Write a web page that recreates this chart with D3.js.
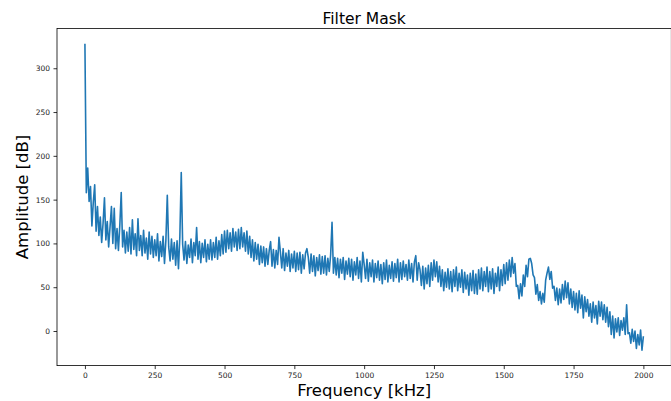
<!DOCTYPE html>
<html>
<head>
<meta charset="utf-8">
<script src="https://cdn.jsdelivr.net/npm/d3@7"></script>
<style>
  html, body { margin: 0; padding: 0; background: #fff; }
  svg { display: block; font-family: "DejaVu Sans", sans-serif; }
</style>
</head>
<body>
<div id="chart"></div>
<script>
// sampling grid of the spectrum (kHz)
const freqStart = 0;
const freqStep = 5;

// amplitude [dB], one value per 5 kHz
const amplitude = [
  328, 158, 186, 148, 165, 120, 147, 167, 114, 142,
  109, 130, 101, 123, 152, 104, 125, 96, 119, 142,
  100, 140, 94, 117, 92, 121, 158, 96, 115, 89,
  113, 91, 118, 88, 127, 93, 111, 86, 128, 92,
  109, 86, 115, 89, 106, 82, 113, 88, 108, 84,
  104, 86, 111, 80, 102, 85, 108, 77, 104, 155,
  96, 80, 105, 82, 101, 75, 103, 71, 108, 181,
  99, 81, 102, 77, 98, 84, 105, 78, 101, 86,
  118, 82, 102, 78, 100, 84, 104, 79, 99, 82,
  104, 81, 101, 84, 107, 82, 103, 86, 110, 88,
  114, 90, 115, 94, 112, 91, 117, 96, 113, 92,
  116, 94, 118, 96, 112, 91, 114, 88, 108, 84,
  104, 80, 101, 82, 99, 76, 97, 78, 96, 74,
  94, 76, 92, 102, 74, 93, 72, 92, 76, 107,
  90, 72, 94, 69, 89, 74, 92, 68, 88, 72,
  91, 68, 89, 70, 90, 66, 87, 71, 89, 94,
  84, 66, 88, 68, 86, 63, 84, 69, 87, 65,
  85, 66, 86, 64, 83, 68, 87, 124, 66, 84,
  64, 83, 61, 82, 66, 84, 59, 80, 65, 83,
  62, 82, 58, 79, 64, 84, 60, 80, 56, 90,
  76, 60, 82, 57, 78, 62, 81, 56, 77, 61,
  80, 58, 76, 54, 78, 59, 81, 56, 75, 60,
  79, 57, 77, 61, 82, 56, 78, 59, 80, 62,
  76, 58, 81, 60, 77, 56, 79, 86, 58, 78,
  70, 52, 74, 48, 72, 54, 75, 51, 78, 58,
  81, 62, 79, 56, 74, 51, 70, 46, 67, 50,
  71, 48, 68, 45, 70, 51, 73, 46, 66, 50,
  70, 44, 67, 48, 64, 41, 66, 46, 69, 43,
  65, 42, 70, 48, 72, 46, 68, 51, 73, 45,
  68, 48, 71, 43, 66, 51, 73, 46, 70, 52,
  76, 54, 78, 58, 81, 62, 84, 66, 77, 51,
  52, 37, 54, 40, 64, 51, 75, 62, 82, 83,
  77, 64, 61, 42, 53, 35, 45, 31, 43, 33,
  58, 66, 73, 59, 68, 49, 51, 35, 49, 30,
  48, 32, 53, 36, 57, 38, 55, 31, 48, 27,
  45, 24, 43, 21, 46, 26, 41, 15, 39, 22,
  36, 17, 31, 10, 33, 15, 29, 8, 34, 17,
  33, 13, 30, 10, 27, 5, 22, -4, 17, -8,
  14, -1, 15, -5, 12, 1, 15, -4, 30, -3,
  -2, -14, 2, -12, 0, -20, -4, -16, 1, -22,
  -6
];

const xTicks = [0, 250, 500, 750, 1000, 1250, 1500, 1750, 2000];
const yTicks = [0, 50, 100, 150, 200, 250, 300];

const W = 671, H = 401;
const box = {left: 57, right: 671.3, top: 28.4, bottom: 365.6};

const series = amplitude.map((a, i) => ({f: freqStart + i * freqStep, a: a}));

const x = d3.scaleLinear().domain([-100, 2100]).range([box.left, box.right]);
const y = d3.scaleLinear().domain([-39.5, 345.5]).range([box.bottom, box.top]);

const svg = d3.select("#chart").append("svg")
  .attr("width", W)
  .attr("height", H);

svg.append("defs").append("clipPath").attr("id", "clip")
  .append("rect")
    .attr("x", box.left).attr("y", box.top)
    .attr("width", box.right - box.left).attr("height", box.bottom - box.top);

svg.append("path")
  .datum(series)
  .attr("clip-path", "url(#clip)")
  .attr("fill", "none")
  .attr("stroke", "#1f77b4")
  .attr("stroke-width", 1.6)
  .attr("stroke-linejoin", "round")
  .attr("d", d3.line().x(d => x(d.f)).y(d => y(d.a)));

// axes
const xAxis = svg.append("g")
  .attr("transform", `translate(0,${box.bottom})`)
  .call(d3.axisBottom(x).tickValues(xTicks).tickSize(3.5).tickPadding(3.5).tickFormat(d3.format("d")));
const yAxis = svg.append("g")
  .attr("transform", `translate(${box.left},0)`)
  .call(d3.axisLeft(y).tickValues(yTicks).tickSize(3.5).tickPadding(3.5).tickFormat(d3.format("d")));

[xAxis, yAxis].forEach(g => {
  g.select(".domain").remove();
  g.selectAll("line").attr("stroke", "#000").attr("stroke-width", 0.8);
  g.selectAll("text")
    .attr("fill", "#222")
    .style("font-family", "DejaVu Sans, sans-serif")
    .style("font-size", "7.5px");
});

// frame
svg.append("rect")
  .attr("x", box.left).attr("y", box.top)
  .attr("width", box.right - box.left).attr("height", box.bottom - box.top)
  .attr("fill", "none")
  .attr("stroke", "#000")
  .attr("stroke-width", 0.8);

svg.append("text")
  .attr("x", (box.left + box.right) / 2)
  .attr("y", 23.5)
  .attr("text-anchor", "middle")
  .style("font-size", "15.5px")
  .text("Filter Mask");

svg.append("text")
  .attr("x", (box.left + box.right) / 2)
  .attr("y", 396)
  .attr("text-anchor", "middle")
  .style("font-size", "16.5px")
  .text("Frequency [kHz]");

svg.append("text")
  .attr("transform", `translate(28,${(box.top + box.bottom) / 2}) rotate(-90)`)
  .attr("text-anchor", "middle")
  .style("font-size", "16.5px")
  .text("Amplitude [dB]");
</script>
</body>
</html>
